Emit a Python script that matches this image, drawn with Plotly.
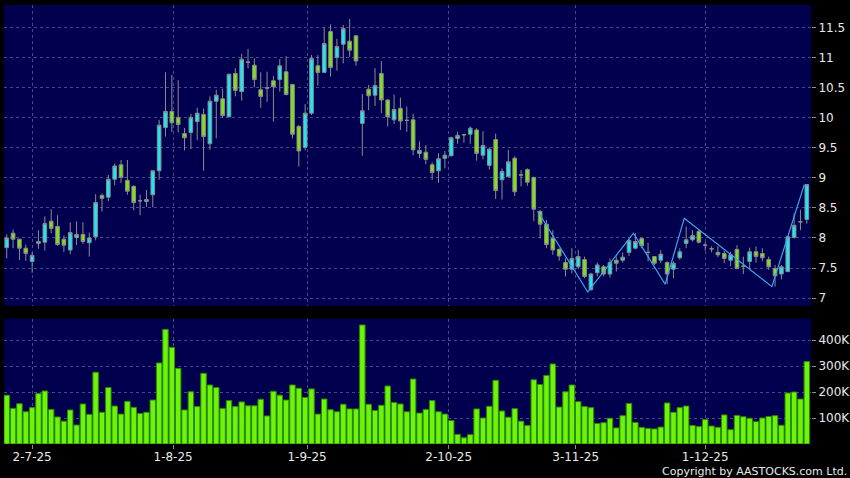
"""Daily candles + volume, dark AASTOCKS-style panel."""

import plotly.graph_objects as go
from plotly.subplots import make_subplots

# palette
PAPER = "#000000"
PANEL = "#00004f"
GRID = "rgba(120,120,185,0.6)"
UP = "#1fe6f2"
DOWN = "#80e01c"
WICK = "#8c8c8c"
VOL = "#6cf50a"
VOL_EDGE = "#2f8a00"
ZIGZAG = "#3aa6ee"
TEXT = "#e8e8e8"

OPEN = [7.84, 8.08, 7.98, 7.83, 7.61, 7.91, 7.93, 8.28, 8.19, 7.98,
        7.80, 8.01, 8.06, 7.92, 8.02, 8.71, 8.68, 8.98, 9.22, 8.96,
        8.86, 8.62, 8.61, 8.72, 9.12, 9.84, 10.11, 10.01, 9.74, 9.76,
        9.94, 10.06, 9.57, 10.28, 10.32, 10.02, 10.74, 10.44, 10.93, 10.88,
        10.47, 10.50, 10.62, 10.64, 10.77, 10.56, 9.86, 9.51, 10.08, 10.87,
        10.76, 11.44, 11.01, 11.23, 11.28, 11.37, 9.91, 10.48, 10.38, 10.74,
        10.30, 9.97, 10.16, 9.96, 9.97, 9.41, 9.43, 9.22, 9.12, 9.33,
        9.37, 9.66, 9.72, 9.73, 9.80, 9.38, 9.21, 9.64, 8.97, 9.02,
        9.33, 9.05, 9.14, 9.01, 8.44, 8.23, 7.99, 7.81, 7.59, 7.48,
        7.52, 7.64, 7.14, 7.42, 7.52, 7.40, 7.63, 7.63, 7.76, 7.83,
        7.99, 7.76, 7.69, 7.63, 7.59, 7.48, 7.67, 7.91, 7.97, 8.11,
        7.88, 7.82, 7.76, 7.74, 7.63, 7.81, 7.53, 7.61, 7.77, 7.74,
        7.64, 7.49, 7.40, 7.44, 8.01, 8.27, 8.31]
HIGH = [8.06, 8.14, 7.98, 7.89, 7.76, 8.13, 8.36, 8.48, 8.38, 8.04,
        8.26, 8.28, 8.26, 8.09, 8.73, 8.74, 9.05, 9.24, 9.30, 9.30,
        8.88, 8.72, 8.80, 9.12, 9.97, 10.76, 10.72, 10.63, 9.83, 10.07,
        10.17, 10.16, 10.36, 10.47, 10.49, 10.73, 10.83, 11.07, 11.15, 10.99,
        10.76, 10.77, 10.70, 10.98, 11.03, 10.56, 9.88, 10.23, 11.05, 11.05,
        11.51, 11.56, 11.32, 11.55, 11.65, 11.37, 10.40, 10.55, 10.83, 10.95,
        10.31, 10.39, 10.34, 10.19, 10.07, 9.61, 9.55, 9.26, 9.41, 9.45,
        9.69, 9.77, 9.73, 9.86, 9.83, 9.78, 9.51, 9.74, 9.16, 9.47,
        9.36, 9.13, 9.16, 9.02, 8.47, 8.30, 8.13, 7.83, 7.66, 7.83,
        7.80, 7.69, 7.42, 7.59, 7.55, 7.66, 7.69, 7.76, 7.99, 8.08,
        8.01, 7.92, 7.70, 7.80, 7.61, 7.61, 7.83, 8.19, 8.13, 8.13,
        7.93, 7.86, 7.86, 7.79, 7.77, 7.88, 7.69, 7.84, 7.86, 7.83,
        7.69, 7.55, 7.55, 8.03, 8.41, 8.47, 8.89]
LOW = [7.66, 7.83, 7.63, 7.62, 7.42, 7.82, 7.79, 8.08, 7.87, 7.77,
       7.73, 7.88, 7.90, 7.69, 7.96, 8.44, 8.61, 8.88, 8.92, 8.72,
       8.46, 8.38, 8.52, 8.51, 8.97, 9.69, 9.77, 9.76, 9.46, 9.48,
       9.63, 9.12, 9.47, 9.66, 10.01, 10.02, 10.36, 10.29, 10.83, 10.51,
       10.17, 10.27, 9.94, 10.44, 10.38, 9.66, 9.19, 9.46, 10.05, 10.54,
       10.76, 10.69, 10.79, 10.91, 11.02, 10.87, 9.37, 10.13, 10.20, 10.08,
       9.86, 9.90, 9.80, 9.77, 9.38, 9.33, 9.23, 8.97, 8.92, 9.16,
       9.36, 9.57, 9.59, 9.57, 9.29, 9.31, 9.14, 8.65, 8.64, 9.02,
       8.70, 8.86, 8.87, 8.28, 7.99, 7.83, 7.72, 7.62, 7.36, 7.41,
       7.48, 7.33, 7.12, 7.36, 7.36, 7.34, 7.44, 7.59, 7.70, 7.81,
       7.83, 7.61, 7.55, 7.58, 7.23, 7.33, 7.64, 7.83, 7.94, 7.91,
       7.79, 7.76, 7.68, 7.58, 7.53, 7.48, 7.40, 7.48, 7.59, 7.61,
       7.47, 7.19, 7.31, 7.43, 7.99, 8.13, 8.24]
CLOSE = [8.00, 7.98, 7.83, 7.74, 7.71, 7.94, 8.24, 8.16, 7.89, 7.88,
         8.09, 8.06, 7.94, 8.00, 8.59, 8.66, 8.98, 9.20, 9.01, 8.78,
         8.59, 8.62, 8.64, 9.12, 9.88, 10.11, 9.92, 9.89, 9.67, 10.01,
         10.08, 9.69, 10.28, 10.38, 10.04, 10.73, 10.46, 10.98, 10.93, 10.64,
         10.36, 10.50, 10.52, 10.87, 10.39, 9.73, 9.45, 10.08, 10.99, 10.76,
         11.24, 10.84, 11.19, 11.49, 11.13, 10.95, 10.12, 10.37, 10.54, 10.30,
         10.02, 10.14, 9.95, 9.96, 9.47, 9.46, 9.31, 9.09, 9.32, 9.38,
         9.67, 9.71, 9.72, 9.83, 9.41, 9.54, 9.48, 8.79, 9.11, 9.27,
         8.77, 9.05, 8.93, 8.48, 8.23, 7.89, 7.80, 7.70, 7.48, 7.66,
         7.69, 7.36, 7.40, 7.55, 7.40, 7.59, 7.58, 7.68, 7.96, 7.94,
         7.87, 7.76, 7.58, 7.73, 7.40, 7.58, 7.77, 7.97, 8.04, 7.93,
         7.88, 7.82, 7.72, 7.66, 7.72, 7.49, 7.53, 7.77, 7.69, 7.67,
         7.52, 7.37, 7.52, 8.02, 8.21, 8.27, 8.89]

# volume in thousands of shares
VOLUME_K = [188, 137, 155, 124, 140, 194, 204, 133, 104, 88,
            131, 73, 154, 114, 276, 122, 217, 146, 115, 164,
            141, 117, 122, 169, 312, 441, 372, 291, 131, 201,
            144, 272, 227, 217, 137, 167, 144, 162, 147, 147,
            172, 108, 203, 188, 169, 227, 214, 179, 212, 115,
            173, 132, 124, 153, 135, 135, 458, 153, 129, 149,
            223, 160, 154, 124, 250, 119, 133, 167, 124, 115,
            90, 37, 24, 36, 135, 100, 145, 245, 127, 103,
            136, 88, 71, 247, 229, 264, 308, 142, 201, 227,
            163, 144, 140, 79, 82, 99, 62, 109, 156, 83,
            64, 60, 58, 65, 158, 122, 140, 146, 71, 67,
            94, 69, 64, 112, 55, 110, 105, 99, 86, 100,
            106, 109, 72, 196, 200, 173, 317]

# zigzag overlay (bar position, price)
ZZ_POS = [83.6, 91.5, 98.7, 103.7, 106.7, 120.5, 125.6]
ZZ_PRICE = [8.45, 7.10, 8.08, 7.23, 8.33, 7.19, 8.89]

DATE_TICKS = ["2-7-25", "1-8-25", "1-9-25", "2-10-25", "3-11-25", "1-12-25"]
DATE_TICK_POS = [4.0, 26.2, 47.3, 69.6, 89.6, 110.0]
PRICE_TICKS = [7, 7.5, 8, 8.5, 9, 9.5, 10, 10.5, 11, 11.5]
VOL_TICKS = [100000, 200000, 300000, 400000]
VOL_TICK_TEXT = ["100K", "200K", "300K", "400K"]

x = list(range(len(OPEN)))
volume = [v * 1000 for v in VOLUME_K]

fig = make_subplots(rows=2, cols=1, shared_xaxes=True)

fig.add_trace(
    go.Candlestick(
        x=x, open=OPEN, high=HIGH, low=LOW, close=CLOSE,
        increasing=dict(fillcolor=UP, line=dict(color=WICK, width=1)),
        decreasing=dict(fillcolor=DOWN, line=dict(color=WICK, width=1)),
        whiskerwidth=0,
        showlegend=False,
        hoverinfo="skip",
    ),
    row=1, col=1,
)
fig.add_trace(
    go.Scatter(
        x=ZZ_POS, y=ZZ_PRICE, mode="lines",
        line=dict(color=ZIGZAG, width=1.2),
        showlegend=False, hoverinfo="skip",
    ),
    row=1, col=1,
)
fig.add_trace(
    go.Bar(
        x=x, y=volume,
        marker=dict(color=VOL, line=dict(color=VOL_EDGE, width=1)),
        showlegend=False, hoverinfo="skip",
    ),
    row=2, col=1,
)

axis_font = dict(family="DejaVu Sans, sans-serif", size=12, color=TEXT)
grid = dict(showgrid=True, gridcolor=GRID, griddash="3px,3px", gridwidth=1, zeroline=False)

for r in (1, 2):
    fig.update_xaxes(
        range=[-0.43, 126.66],
        tickmode="array", tickvals=DATE_TICK_POS, ticktext=DATE_TICKS,
        rangeslider=dict(visible=False),
        showline=False, ticks="", showticklabels=False,
        **grid, row=r, col=1,
    )
fig.update_xaxes(showticklabels=True, ticks="outside", ticklen=4, tickcolor=WICK,
                 ticklabelstandoff=-2, tickfont=axis_font, row=2, col=1)

fig.update_yaxes(
    side="right", range=[6.867, 11.883],
    tickmode="array", tickvals=PRICE_TICKS,
    ticktext=[f"{v:g}" for v in PRICE_TICKS],
    ticks="outside", ticklen=4, tickcolor=WICK, tickfont=axis_font,
    showline=False, automargin=False, **grid, row=1, col=1,
)
fig.update_yaxes(
    side="right", range=[0, 482000],
    tickmode="array", tickvals=VOL_TICKS, ticktext=VOL_TICK_TEXT,
    ticks="outside", ticklen=4, tickcolor=WICK, tickfont=axis_font,
    showline=False, automargin=False, **grid, row=2, col=1,
)

fig.update_layout(
    width=850,
    height=478,
    paper_bgcolor=PAPER,
    plot_bgcolor=PANEL,
    margin=dict(l=4, r=39, t=5, b=34),
    bargap=0.14,
    boxgap=0.18,
    font=axis_font,
    yaxis=dict(domain=[0.3144, 1.0]),
    yaxis2=dict(domain=[0.0, 0.2854]),
    hovermode=False,
)

fig.add_annotation(
    text="Copyright by AASTOCKS.com Ltd.",
    xref="paper", yref="paper", x=1.0458, y=-0.0627,
    xanchor="right", yanchor="middle", showarrow=False, borderpad=0,
    font=dict(family="DejaVu Sans, sans-serif", size=11, color=TEXT),
)

# the page body has a default 8px margin; drop it so the figure sits at 0,0
fig.write_html(
    "out.html",
    config={"displayModeBar": False},
    post_script="document.body.style.margin='0';document.body.style.overflow='hidden';",
)
